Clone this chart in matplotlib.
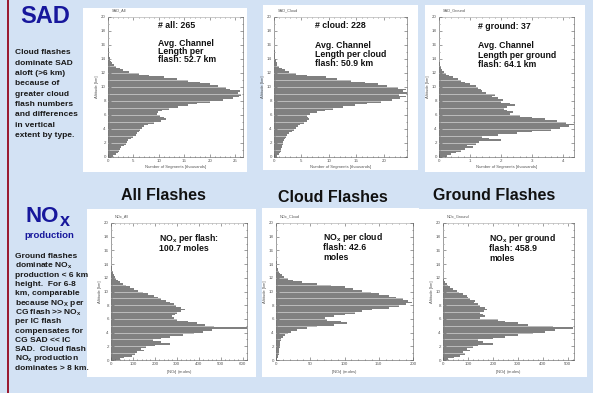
import numpy as np
import matplotlib
matplotlib.use('Agg')
import matplotlib.pyplot as plt
from matplotlib.patches import Rectangle
from matplotlib.ticker import MultipleLocator

plt.rcParams['font.family'] = ['Liberation Sans', 'DejaVu Sans']
plt.rcParams['mathtext.fontset'] = 'custom'
plt.rcParams['mathtext.rm'] = 'Liberation Sans'
plt.rcParams['mathtext.bf'] = 'Liberation Sans:bold'
plt.rcParams['mathtext.it'] = 'Liberation Sans:italic'

# ---------------- data (0.25 km altitude bins, 0-17 km) ----------------
bin_km = 0.25
altitude_bottom_km = np.arange(0, 17, bin_km)

sad_all = [0.9, 1.5, 2.0, 2.2, 2.4, 2.6, 3.1, 3.5, 3.7, 4.0, 4.6, 5.0,
           5.4, 5.7, 6.0, 6.3, 6.6, 7.0, 7.8, 9.0, 10.5, 11.3, 11.0, 10.2,
           9.6, 9.8, 10.6, 12.0, 13.8, 15.8, 17.5, 20.0, 22.5, 24.5, 25.8, 26.2,
           25.6, 26.0, 24.0, 23.2, 21.5, 20.0, 18.0, 15.8, 13.5, 11.0, 8.0, 6.0,
           4.2, 3.0, 2.3, 1.6, 1.1, 0.8, 0.6, 0.45, 0.35, 0.28, 0.22, 0.18,
           0.14, 0.10, 0.07, 0.05, 0.03, 0.02, 0.0, 0.0]
sad_cloud = [0.6, 0.9, 1.1, 1.2, 1.3, 1.4, 1.5, 1.6, 1.6, 1.8, 2.0, 2.2,
             2.4, 2.8, 3.2, 3.6, 4.0, 4.3, 4.8, 5.4, 6.0, 6.4, 6.2, 6.0,
             6.5, 7.8, 9.2, 10.8, 12.5, 14.8, 17.0, 19.5, 21.5, 23.0, 24.0, 22.8,
             24.2, 23.5, 24.0, 22.5, 20.5, 19.0, 16.5, 14.0, 11.5, 9.5, 6.0, 4.0,
             2.8, 2.0, 1.5, 1.0, 0.6, 0.5, 0.4, 0.3, 0.25, 0.2, 0.15, 0.12,
             0.1, 0.08, 0.06, 0.04, 0.03, 0.02, 0.0, 0.0]
sad_ground = [0.25, 0.4, 0.55, 0.7, 0.85, 1.1, 0.9, 1.2, 1.3, 2.0, 1.6, 1.4,
              1.9, 2.5, 3.0, 3.6, 3.9, 4.2, 4.35, 4.1, 3.8, 3.4, 3.0, 2.6,
              2.3, 2.4, 2.2, 2.1, 2.2, 2.45, 2.3, 2.0, 2.05, 1.9, 1.7, 1.8,
              1.5, 1.4, 1.35, 1.25, 1.2, 1.0, 0.85, 0.7, 0.6, 0.45, 0.32, 0.22,
              0.15, 0.1, 0.07, 0.05, 0.03, 0.02, 0.01, 0.0, 0.0, 0.0, 0.0, 0.0,
              0.0, 0.0, 0.0, 0.0, 0.0, 0.0, 0.0, 0.0]
nox_all = [40, 60, 95, 110, 120, 150, 135, 160, 200, 270, 230, 190,
           230, 270, 330, 380, 420, 460, 620, 470, 430, 390, 350, 300,
           285, 280, 290, 300, 320, 336, 320, 295, 285, 270, 250, 230,
           215, 195, 170, 145, 125, 105, 85, 70, 55, 42, 32, 25,
           20, 15, 11, 8, 6, 4, 3, 2, 1.5, 1, 0.5, 0,
           0, 0, 0, 0, 0, 0, 0, 0]
nox_cloud = [2, 3, 3.5, 4, 4.5, 5, 5, 5.5, 6, 6, 6.5, 7,
             8, 10, 13, 17, 22, 30, 45, 60, 85, 103, 95, 75,
             72, 85, 100, 115, 125, 140, 165, 180, 190, 198, 192, 185,
             175, 165, 150, 138, 125, 112, 100, 80, 60, 38, 25, 18,
             12, 9, 6, 4, 3, 2.5, 2, 1.5, 1.2, 1, 0.7, 0.5,
             0.3, 0.2, 0.1, 0, 0, 0, 0, 0]
nox_ground = [20, 45, 70, 90, 80, 110, 95, 120, 140, 200, 160, 140,
              200, 250, 300, 360, 410, 450, 520, 440, 340, 300, 250, 220,
              150, 170, 160, 150, 165, 175, 168, 150, 140, 125, 128, 110,
              100, 95, 80, 65, 55, 40, 28, 20, 15, 10, 6, 4,
              2, 1, 0.5, 0, 0, 0, 0, 0, 0, 0, 0, 0,
              0, 0, 0, 0, 0, 0, 0, 0]

panel_series = [sad_all, sad_cloud, sad_ground, nox_all, nox_cloud, nox_ground]
panel_names = ['SAD_All', 'SAD_Cloud', 'SAD_Ground', 'NOx_All', 'NOx_Cloud', 'NOx_Ground']
column_titles = ['All Flashes', 'Cloud Flashes', 'Ground Flashes']
sad_xlabel = 'Number of Segments [thousands]'
nox_xlabel = r'[NO$_\mathregular{x}$] (moles)'

sad_notes = [['# all: 265', 'Avg. Channel', 'Length per', 'flash: 52.7 km'],
             ['# cloud: 228', 'Avg. Channel', 'Length per cloud', 'flash: 50.9 km'],
             ['# ground: 37', 'Avg. Channel', 'Length per ground', 'flash: 64.1 km']]
nox_notes = [[r'NO$_\mathbf{x}$ per flash:', '100.7 moles'],
             [r'NO$_\mathbf{x}$ per cloud', 'flash: 42.6', 'moles'],
             [r'NO$_\mathbf{x}$ per ground', 'flash: 458.9', 'moles']]

sad_text = ['Cloud flashes', 'dominate SAD', 'aloft (>6 km)', 'because of',
            'greater cloud', 'flash numbers', 'and differences', 'in vertical',
            'extent by type.']
nox_text = ['Ground flashes', r'dominate NO$_\mathbf{x}$', 'production < 6 km',
            'height.  For 6-8', 'km, comparable', r'because NO$_\mathbf{X}$ per',
            r'CG flash >> NO$_\mathbf{x}$', 'per IC flash', 'compensates for',
            'CG SAD << IC', 'SAD.  Cloud flash', r'NO$_\mathbf{x}$ production',
            'dominates > 8 km.']

# ---------------- layout (pixels) ----------------
W, H = 593, 393
fig = plt.figure(figsize=(W / 100, H / 100), dpi=100)
fig.patch.set_facecolor('#d3e2f4')

def fx(x):
    return x / W

def fy(y):
    return 1 - y / H

def add_box(x0, y0, x1, y1):
    fig.patches.append(Rectangle((fx(x0), fy(y1)), (x1 - x0) / W, (y1 - y0) / H,
                                 transform=fig.transFigure, facecolor='white',
                                 edgecolor='none', zorder=-2))

# left red bar
fig.patches.append(Rectangle((fx(7), 0), 2 / W, 1, transform=fig.transFigure,
                             facecolor='#9a1c32', edgecolor='none', zorder=-1))

boxes = [(83, 8, 247, 172), (263, 5, 418, 170), (425, 5, 585, 172),
         (87, 209, 256, 377), (262, 208, 419, 377), (418, 209, 587, 377)]
for b in boxes:
    add_box(*b)

axes_px = [(108, 17, 243, 157), (274, 17, 407, 157), (439, 17, 574, 157),
           (111, 223, 247, 360), (276, 223, 413, 360), (443, 223, 574, 360)]
xlims = [26.5, 24.2, 4.35, 620, 200, 525]
xmajor = [5, 5, 1, 100, 50, 100]
xminor = [1, 1, 0.2, 20, 10, 20]

for i, (l, t, r, b) in enumerate(axes_px):
    ax = fig.add_axes([fx(l), fy(b), (r - l) / W, (b - t) / H])
    ax.set_zorder(1)
    ax.barh(altitude_bottom_km + bin_km / 2, panel_series[i], height=bin_km,
            color='#808080', linewidth=0, zorder=2)
    ax.set_xlim(0, xlims[i])
    ax.set_ylim(0, 20)
    ax.xaxis.set_major_locator(MultipleLocator(xmajor[i]))
    ax.xaxis.set_minor_locator(MultipleLocator(xminor[i]))
    ax.yaxis.set_major_locator(MultipleLocator(2))
    ax.yaxis.set_minor_locator(MultipleLocator(1))
    ax.grid(axis='y', which='both', color='white', alpha=0.55, lw=0.6, zorder=3)
    ax.set_axisbelow(False)
    ax.tick_params(which='both', direction='in', top=True, right=True,
                   labelsize=3.2, colors='#555555', width=0.4, pad=1.5)
    ax.tick_params(which='major', length=2)
    ax.tick_params(which='minor', length=1)
    for s in ax.spines.values():
        s.set_linewidth(0.5)
        s.set_color('#777777')
    ax.set_ylabel('Altitude [km]', fontsize=3, color='#555555', labelpad=1.5)
    ax.set_xlabel(sad_xlabel if i < 3 else nox_xlabel, fontsize=3,
                  color='#555555', labelpad=1.5)
    ax.text(0.03, 1.03, panel_names[i], transform=ax.transAxes, fontsize=2.8,
            color='#555555', va='bottom', ha='left')

# ---------------- annotations inside panels ----------------
ann_kw = dict(fontsize=6.3, fontweight='bold', color='#111111', va='center',
              ha='left', zorder=5)
sad_note_pos = [(158, [25, 43.3, 51.7, 60]),
                (315, [25, 45.7, 54.3, 63.3]),
                (478, [26.7, 46, 55, 64.3])]
for notes, (x, ys) in zip(sad_notes, sad_note_pos):
    for txt, y in zip(notes, ys):
        fig.text(fx(x), fy(y), txt, **ann_kw)

nox_note_pos = [(159, [238.3, 248.3]),
                (323, [237.3, 247.3, 257.3]),
                (489, [238.3, 248.3, 258.3])]
for notes, (x, ys) in zip(nox_notes, nox_note_pos):
    for txt, y in zip(notes, ys):
        fig.text(fx(x), fy(y), txt, **ann_kw)

# column titles
title_pos = [(163, 195), (333, 197), (494, 196)]
for txt, (x, y) in zip(column_titles, title_pos):
    fig.text(fx(x), fy(y), txt, fontsize=11.5, fontweight='bold', color='#111111',
             ha='center', va='center')

# ---------------- left column texts ----------------
blue = '#17179c'
fig.text(fx(45), fy(16.5), 'SAD', fontsize=17, fontweight='bold', color=blue,
         ha='center', va='center')
body_kw = dict(fontsize=6.0, fontweight='bold', color='#1a1a1a', ha='left', va='center')
for k, line in enumerate(sad_text):
    fig.text(fx(15), fy(53 + k * 10.3), line, **body_kw)

fig.text(fx(59), fy(222.5), 'NO', fontsize=16, fontweight='bold', color=blue,
         ha='right', va='baseline')
fig.text(fx(59.5), fy(226.5), 'x', fontsize=13, fontweight='bold', color=blue,
         ha='left', va='baseline')
fig.text(fx(49.5), fy(235.7), 'production', fontsize=6.8, fontweight='bold',
         color=blue, ha='center', va='center')
for k, line in enumerate(nox_text):
    fig.text(fx(15), fy(256.7 + k * 9.3), line, **body_kw)

fig.savefig('out.png', dpi=100, facecolor=fig.get_facecolor())
